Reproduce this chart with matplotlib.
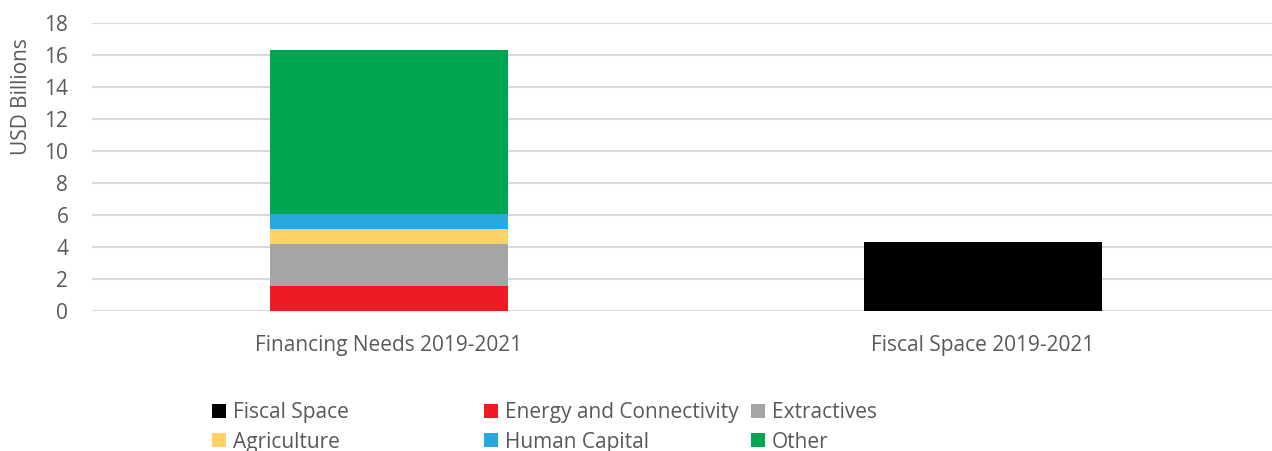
import matplotlib.pyplot as plt
from matplotlib.patches import Patch

# data
categories = ["Financing Needs 2019-2021", "Fiscal Space 2019-2021"]
energy = [1.58, 0]
extractives = [2.62, 0]
agriculture = [0.94, 0]
human_capital = [0.94, 0]
other = [10.25, 0]
fiscal_space = [0, 4.33]
yticks = [0, 2, 4, 6, 8, 10, 12, 14, 16, 18]

plt.rcParams['font.family'] = ['Open Sans', 'DejaVu Sans']
txt = '#595959'
fs = 15

col = {
    'Fiscal Space': '#000000',
    'Energy and Connectivity': '#ED1C24',
    'Extractives': '#A5A5A5',
    'Agriculture': '#FFD166',
    'Human Capital': '#29A8E0',
    'Other': '#00A651',
}

fig = plt.figure(figsize=(12.72, 4.51), dpi=100)
ax = fig.add_axes([0.0723, 0.3098, 0.9277, 0.6385])

x = [0, 1]
w = 0.4
bottom = [0, 0]
series = [('Energy and Connectivity', energy), ('Extractives', extractives),
          ('Agriculture', agriculture), ('Human Capital', human_capital),
          ('Other', other)]
for name, vals in series:
    ax.bar(x, vals, w, bottom=bottom, color=col[name], zorder=3)
    bottom = [b + v for b, v in zip(bottom, vals)]
ax.bar(x, fiscal_space, w, color=col['Fiscal Space'], zorder=3)

ax.set_ylim(0, 18)
ax.set_xlim(-0.5, 1.4865)
ax.set_yticks(yticks)
ax.set_xticks(x)
ax.set_xticklabels(categories)
ax.yaxis.grid(True, color='#D9D9D9', linewidth=1.5, zorder=0)
for s in ax.spines.values():
    s.set_visible(False)
ax.tick_params(axis='y', length=0, pad=17, labelsize=fs, labelcolor=txt)
ax.tick_params(axis='x', length=0, pad=17, labelsize=fs, labelcolor=txt)
ax.set_ylabel('USD Billions', fontsize=fs, color=txt)
ax.yaxis.set_label_coords(-0.051, 0.744)

# legend in three columns, placed like the original
columns = [['Fiscal Space', 'Agriculture'],
           ['Energy and Connectivity', 'Human Capital'],
           ['Extractives', 'Other']]
xpos = [212, 484, 751]
for names, xp in zip(columns, xpos):
    handles = [Patch(facecolor=col[n], label=n) for n in names]
    leg = fig.legend(handles=handles, loc='upper left',
                     bbox_to_anchor=(xp / 1272, 1 - 402 / 451),
                     frameon=False, fontsize=fs, handlelength=0.65,
                     handleheight=0.65, handletextpad=0.35,
                     labelspacing=0.42, borderpad=0, borderaxespad=0)
    for t in leg.get_texts():
        t.set_color(txt)

fig.savefig('out.png', dpi=100)
